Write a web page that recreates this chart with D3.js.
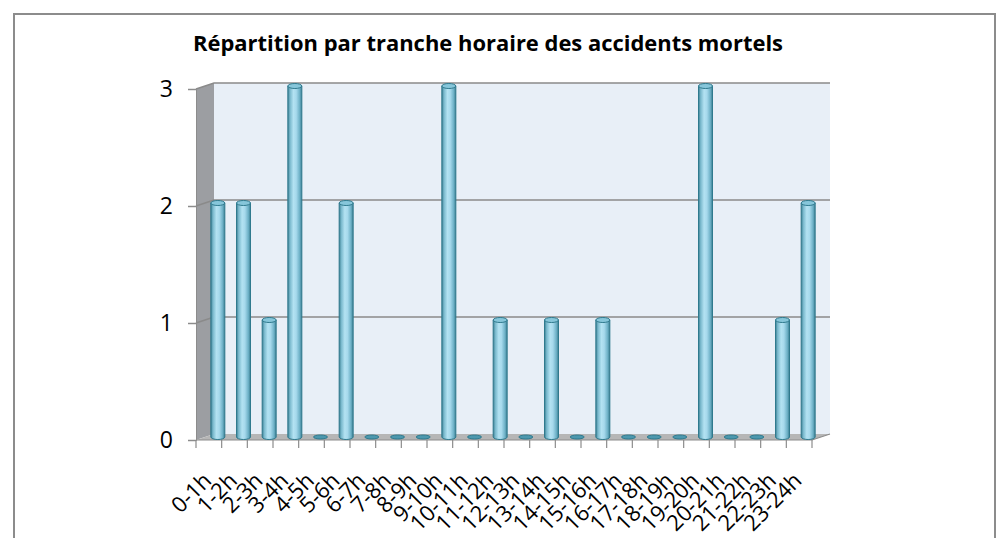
<!DOCTYPE html>
<html>
<head>
<meta charset="utf-8">
<script src="https://cdn.jsdelivr.net/npm/d3@7"></script>
<style>
  body { margin: 0; background: #fff; }
  svg { display: block; }
</style>
</head>
<body>
<div class="chart"></div>
<script>
// data
const title = "Répartition par tranche horaire des accidents mortels";
const hours = ["0-1h","1-2h","2-3h","3-4h","4-5h","5-6h","6-7h","7-8h","8-9h","9-10h","10-11h","11-12h",
               "12-13h","13-14h","14-15h","15-16h","16-17h","17-18h","18-19h","19-20h","20-21h","21-22h","22-23h","23-24h"];
const accidents = [2,2,1,3,0,2,0,0,0,3,0,1,0,1,0,1,0,0,0,3,0,0,1,2];
const yTicks = [0,1,2,3];

let width = 998,
    height = 538;

// 3d depth offset of the back wall
let dx = 18, dy = -6;

let svg = d3.select('.chart').append('svg')
    .attr('width', width)
    .attr('height', height);

let defs = svg.append('defs');
let grad = defs.append('linearGradient').attr('id', 'cyl').attr('x1', 0).attr('x2', 1).attr('y1', 0).attr('y2', 0);
[[0,'#3b7d90'],[0.15,'#78b8cc'],[0.4,'#b3e2f2'],[0.6,'#a6d9ec'],[0.85,'#6cb0c6'],[1,'#3b7d90']]
  .forEach(s => grad.append('stop').attr('offset', s[0]).attr('stop-color', s[1]));

// outer frame
svg.append('rect')
    .attr('x', 14).attr('y', 14)
    .attr('width', 981).attr('height', 560)
    .attr('fill', 'none')
    .attr('stroke', '#8c8c8c')
    .attr('stroke-width', 2);

svg.append('text')
    .attr('x', 193).attr('y', 51)
    .attr('textLength', 590)
    .attr('lengthAdjust', 'spacingAndGlyphs')
    .style('font-family', '"Open Sans", sans-serif')
    .style('font-weight', 'bold')
    .style('font-size', '21px')
    .text(title);

let x = d3.scaleBand().domain(hours).range([196, 812]);
let xi = d3.scaleLinear().domain([0, hours.length]).range([196, 812]);
let y = d3.scaleLinear().domain([0, 3]).range([440, 89]);

let x0 = x.range()[0], x1 = x.range()[1];

// back wall
svg.append('rect')
    .attr('x', x0 + dx).attr('y', y(3) + dy)
    .attr('width', x1 - x0).attr('height', y(0) - y(3))
    .attr('fill', '#e8eff7');

// side wall
svg.append('path')
    .attr('d', `M${x0},${y(3)}L${x0+dx},${y(3)+dy}L${x0+dx},${y(0)+dy}L${x0},${y(0)}Z`)
    .attr('fill', '#9c9ea2');

// floor
svg.append('path')
    .attr('d', `M${x0},${y(0)}L${x1},${y(0)}L${x1+dx},${y(0)+dy}L${x0+dx},${y(0)+dy}Z`)
    .attr('fill', '#b6b6b6');

// gridlines
let grid = svg.append('g');
yTicks.filter(d => d > 0).forEach(d => {
  grid.append('path')
    .attr('d', `M${x0},${y(d)}L${x0+dx},${y(d)+dy}L${x1+dx},${y(d)+dy}`)
    .attr('fill', 'none')
    .attr('stroke', '#8a8a8a')
    .attr('stroke-width', 1.5);
});

// floor edges
svg.append('path')
    .attr('d', `M${x0},${y(0)}L${x1},${y(0)}L${x1+dx},${y(0)+dy}`)
    .attr('fill', 'none')
    .attr('stroke', '#8c8c8c')
    .attr('stroke-width', 1.2);

// y axis
let yAxis = svg.append('g')
    .attr('transform', `translate(${x0},0)`)
    .call(d3.axisLeft(y).tickValues(yTicks).tickFormat(d3.format('d')).tickSize(8).tickPadding(15));
yAxis.select('.domain').attr('stroke', '#8c8c8c');
yAxis.selectAll('.tick line').attr('stroke', '#8c8c8c').attr('stroke-width', 1.5);
yAxis.selectAll('text')
    .style('font-family', '"Open Sans", sans-serif')
    .style('font-size', '23px')
    .attr('fill', '#000');

// x ticks on band edges
svg.append('g').selectAll('line')
    .data(d3.range(hours.length + 1))
    .join('line')
    .attr('x1', d => xi(d)).attr('x2', d => xi(d))
    .attr('y1', y(0)).attr('y2', y(0) + 8)
    .attr('stroke', '#8c8c8c')
    .attr('stroke-width', 1.2);

// x labels
let xAxis = svg.append('g')
    .attr('transform', `translate(0,${y(0)})`)
    .call(d3.axisBottom(x).tickSize(0).tickPadding(0));
xAxis.select('.domain').remove();
xAxis.selectAll('text')
    .attr('text-anchor', 'end')
    .attr('dy', 0)
    .attr('y', 0)
    .attr('transform', 'translate(4,42) rotate(-45)')
    .style('font-family', '"Open Sans", sans-serif')
    .style('font-size', '22px')
    .attr('fill', '#000');

// cylinders, placed half way into the depth
let bw = 14, rx = bw / 2, ry = 2.5;
let bars = svg.append('g')
    .selectAll('g')
    .data(hours.map((h, i) => ({h: h, v: accidents[i]})))
    .join('g')
    .attr('transform', d => `translate(${x(d.h) + x.bandwidth() / 2 + dx / 2},${dy / 2})`);

bars.filter(d => d.v > 0).append('path')
    .attr('d', d => {
      let yb = y(0), yt = y(d.v);
      return `M${-rx},${yt}L${-rx},${yb}A${rx},${ry} 0 0 0 ${rx},${yb}L${rx},${yt}Z`;
    })
    .attr('fill', 'url(#cyl)')
    .attr('stroke', '#2f7a8e')
    .attr('stroke-width', 1);

bars.append('ellipse')
    .attr('cx', 0)
    .attr('cy', d => y(d.v))
    .attr('rx', rx)
    .attr('ry', d => d.v > 0 ? ry : 2)
    .attr('fill', d => d.v > 0 ? '#86c6da' : '#4c98ae')
    .attr('stroke', '#2f7a8e')
    .attr('stroke-width', 1);
</script>
</body>
</html>
